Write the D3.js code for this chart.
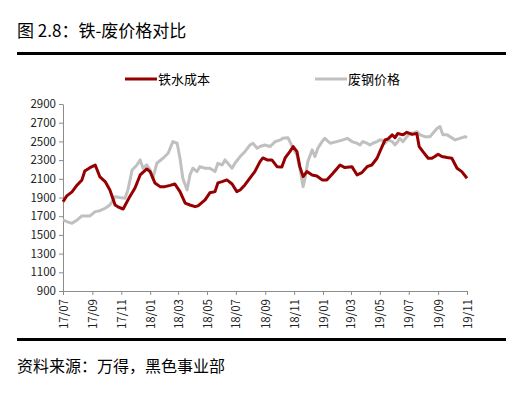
<!DOCTYPE html>
<html>
<head>
<meta charset="utf-8">
<script src="https://cdn.jsdelivr.net/npm/d3@7"></script>
<style>
  body { margin: 0; background: #fff; }
  text { font-family: "Noto Sans CJK SC", "DejaVu Sans", sans-serif; }
</style>
</head>
<body>
<script>
// 铁水成本 (iron cost)
var ironDates = ["2017-07-01","2017-07-09","2017-07-20","2017-07-31","2017-08-10","2017-08-16","2017-08-27","2017-09-07","2017-09-17","2017-09-28",
  "2017-10-08","2017-10-19","2017-10-25","2017-11-05","2017-11-19","2017-11-30","2017-12-11","2017-12-25","2018-01-01","2018-01-11",
  "2018-01-22","2018-02-01","2018-02-12","2018-02-22","2018-03-05","2018-03-16","2018-03-26","2018-04-06","2018-04-12","2018-04-27",
  "2018-05-07","2018-05-18","2018-05-24","2018-06-02","2018-06-12","2018-06-23","2018-07-03","2018-07-10","2018-07-20","2018-07-31",
  "2018-08-10","2018-08-21","2018-08-27","2018-09-05","2018-09-15","2018-09-26","2018-10-06","2018-10-13","2018-10-23","2018-10-30",
  "2018-11-07","2018-11-13","2018-11-20","2018-11-28","2018-12-09","2018-12-19","2018-12-30","2019-01-09","2019-01-22","2019-02-06",
  "2019-02-16","2019-03-03","2019-03-14","2019-03-24","2019-04-04","2019-04-14","2019-04-25","2019-05-01","2019-05-12","2019-05-18",
  "2019-05-27","2019-06-02","2019-06-08","2019-06-19","2019-06-27","2019-07-08","2019-07-18","2019-07-23","2019-07-31","2019-08-11",
  "2019-08-19","2019-08-25","2019-09-01","2019-09-09","2019-09-20","2019-09-30","2019-10-11","2019-10-21","2019-11-01"];
var ironValues = [1855,1917,1960,2034,2088,2184,2219,2248,2120,2070,
  1980,1820,1800,1777,1909,2002,2141,2205,2177,2056,
  2016,2016,2030,2045,1963,1840,1820,1802,1810,1874,
  1950,1963,2056,2070,2088,2045,1963,1980,2034,2109,
  2177,2284,2323,2302,2302,2230,2227,2323,2390,2445,
  2390,2230,2123,2177,2141,2130,2088,2088,2159,2248,
  2220,2230,2141,2166,2230,2248,2320,2390,2516,2526,
  2570,2540,2585,2570,2597,2575,2585,2445,2390,2320,
  2320,2338,2363,2338,2327,2320,2213,2177,2106];

// 废钢价格 (scrap price)
var scrapDates = ["2017-07-01","2017-07-09","2017-07-20","2017-07-31","2017-08-10","2017-08-27","2017-09-07","2017-09-17","2017-09-28","2017-10-08",
  "2017-10-19","2017-10-29","2017-11-09","2017-11-15","2017-11-24","2017-12-04","2017-12-11","2017-12-17","2017-12-25","2018-01-01",
  "2018-01-07","2018-01-15","2018-01-28","2018-02-08","2018-02-18","2018-02-27","2018-03-05","2018-03-11","2018-03-20","2018-03-26",
  "2018-04-01","2018-04-10","2018-04-16","2018-04-27","2018-05-07","2018-05-18","2018-05-24","2018-06-02","2018-06-08","2018-06-14",
  "2018-06-23","2018-06-29","2018-07-10","2018-07-20","2018-07-31","2018-08-06","2018-08-15","2018-08-21","2018-08-31","2018-09-11",
  "2018-09-22","2018-10-03","2018-10-08","2018-10-19","2018-10-23","2018-10-30","2018-11-07","2018-11-13","2018-11-18","2018-11-20",
  "2018-11-24","2018-11-30","2018-12-09","2018-12-15","2018-12-21","2018-12-30","2019-01-05","2019-01-16","2019-01-30","2019-02-12",
  "2019-02-21","2019-03-03","2019-03-14","2019-03-20","2019-03-26","2019-04-04","2019-04-10","2019-04-16","2019-04-25","2019-05-01",
  "2019-05-05","2019-05-12","2019-05-18","2019-05-27","2019-06-02","2019-06-08","2019-06-12","2019-06-19","2019-06-27","2019-07-04",
  "2019-07-10","2019-07-18","2019-07-25","2019-08-04","2019-08-15","2019-08-21","2019-08-30","2019-09-05","2019-09-11","2019-09-20",
  "2019-09-26","2019-10-07","2019-10-17","2019-10-28","2019-11-01"];
var scrapValues = [1660,1642,1624,1660,1703,1703,1749,1759,1785,1820,
  1909,1900,1892,1980,2195,2248,2302,2213,2248,2195,
  2106,2266,2320,2373,2498,2480,2320,2106,1980,2141,
  2213,2177,2230,2213,2213,2177,2266,2248,2302,2266,
  2213,2266,2338,2390,2462,2480,2427,2445,2462,2445,
  2498,2516,2533,2540,2498,2427,2355,2213,2070,2016,
  2106,2284,2409,2338,2427,2498,2533,2480,2498,2516,
  2533,2498,2480,2462,2498,2480,2462,2480,2498,2516,
  2516,2480,2516,2498,2462,2498,2533,2498,2551,2587,
  2587,2605,2570,2551,2551,2587,2640,2658,2570,2570,
  2551,2516,2533,2551,2540];

var yTicks = [900,1100,1300,1500,1700,1900,2100,2300,2500,2700,2900];
var xTickLabels = ["17/07","17/09","17/11","18/01","18/03","18/05","18/07","18/09","18/11","19/01","19/03","19/05","19/07","19/09","19/11"];

var w = 530, h = 395;
var plotLeft = 63, plotRight = 467, plotTop = 104, plotBottom = 291;
var parse = d3.timeParse("%Y-%m-%d");

var svg = d3.select("body").append("svg")
    .attr("width", w)
    .attr("height", h);

// title and rules
svg.append("text")
    .attr("x", 17).attr("y", 37)
    .attr("font-size", "17px")
    .attr("fill", "#000")
    .text("图 2.8：铁-废价格对比");
svg.append("rect").attr("x", 17).attr("y", 52).attr("width", 489).attr("height", 3).attr("fill", "#000");
svg.append("rect").attr("x", 17).attr("y", 338).attr("width", 489).attr("height", 3).attr("fill", "#000");
svg.append("text")
    .attr("x", 17).attr("y", 372)
    .attr("font-size", "16px")
    .attr("fill", "#000")
    .text("资料来源：万得，黑色事业部");

var x = d3.scaleTime()
    .domain([parse("2017-07-01"), parse("2019-11-01")])
    .range([plotLeft, plotRight]);
var y = d3.scaleLinear()
    .domain([900, 2900])
    .range([plotBottom, plotTop]);

var xTickDates = xTickLabels.map(function(s) {
    return parse("20" + s.slice(0, 2) + "-" + s.slice(3) + "-01");
});

// y axis
var yAxis = svg.append("g")
    .attr("transform", "translate(" + plotLeft + ",0)")
    .call(d3.axisLeft(y).tickValues(yTicks).tickSize(4).tickSizeOuter(0).tickPadding(3)
        .tickFormat(d3.format("d")));
yAxis.selectAll("text")
    .attr("font-size", "11.5px")
    .attr("font-family", "'DejaVu Sans', sans-serif")
    .attr("fill", "#222");

// x axis
var xAxis = svg.append("g")
    .attr("transform", "translate(0," + plotBottom + ")")
    .call(d3.axisBottom(x).tickValues(xTickDates).tickSize(4).tickSizeOuter(0)
        .tickFormat(function(d, i) { return xTickLabels[i]; }));
xAxis.selectAll("text")
    .attr("font-size", "11.5px")
    .attr("font-family", "'DejaVu Sans', sans-serif")
    .attr("fill", "#222")
    .attr("text-anchor", "end")
    .attr("transform", "rotate(-90)")
    .attr("x", -8)
    .attr("y", 0)
    .attr("dy", "0.35em");

svg.selectAll(".domain, .tick line").attr("stroke", "#8c8c8c");

var line = d3.line()
    .x(function(d) { return x(d.date); })
    .y(function(d) { return y(d.value); });

var scrap = scrapDates.map(function(d, i) { return { date: parse(d), value: scrapValues[i] }; });
var iron = ironDates.map(function(d, i) { return { date: parse(d), value: ironValues[i] }; });

svg.append("path")
    .datum(scrap)
    .attr("d", line)
    .attr("fill", "none")
    .attr("stroke", "#c0c0c0")
    .attr("stroke-width", 3)
    .attr("stroke-linejoin", "round");

svg.append("path")
    .datum(iron)
    .attr("d", line)
    .attr("fill", "none")
    .attr("stroke", "#960000")
    .attr("stroke-width", 3)
    .attr("stroke-linejoin", "round");

// legend
var legend = [
    { name: "铁水成本", color: "#960000", x: 125 },
    { name: "废钢价格", color: "#c0c0c0", x: 315 }
];
var lg = svg.selectAll(".legend")
    .data(legend)
    .enter()
    .append("g")
    .attr("class", "legend");
lg.append("line")
    .attr("x1", function(d) { return d.x; })
    .attr("x2", function(d) { return d.x + 32; })
    .attr("y1", 79).attr("y2", 79)
    .attr("stroke", function(d) { return d.color; })
    .attr("stroke-width", 3);
lg.append("text")
    .attr("x", function(d) { return d.x + 33; })
    .attr("y", 84)
    .attr("font-size", "13px")
    .attr("fill", "#000")
    .text(function(d) { return d.name; });
</script>
</body>
</html>
